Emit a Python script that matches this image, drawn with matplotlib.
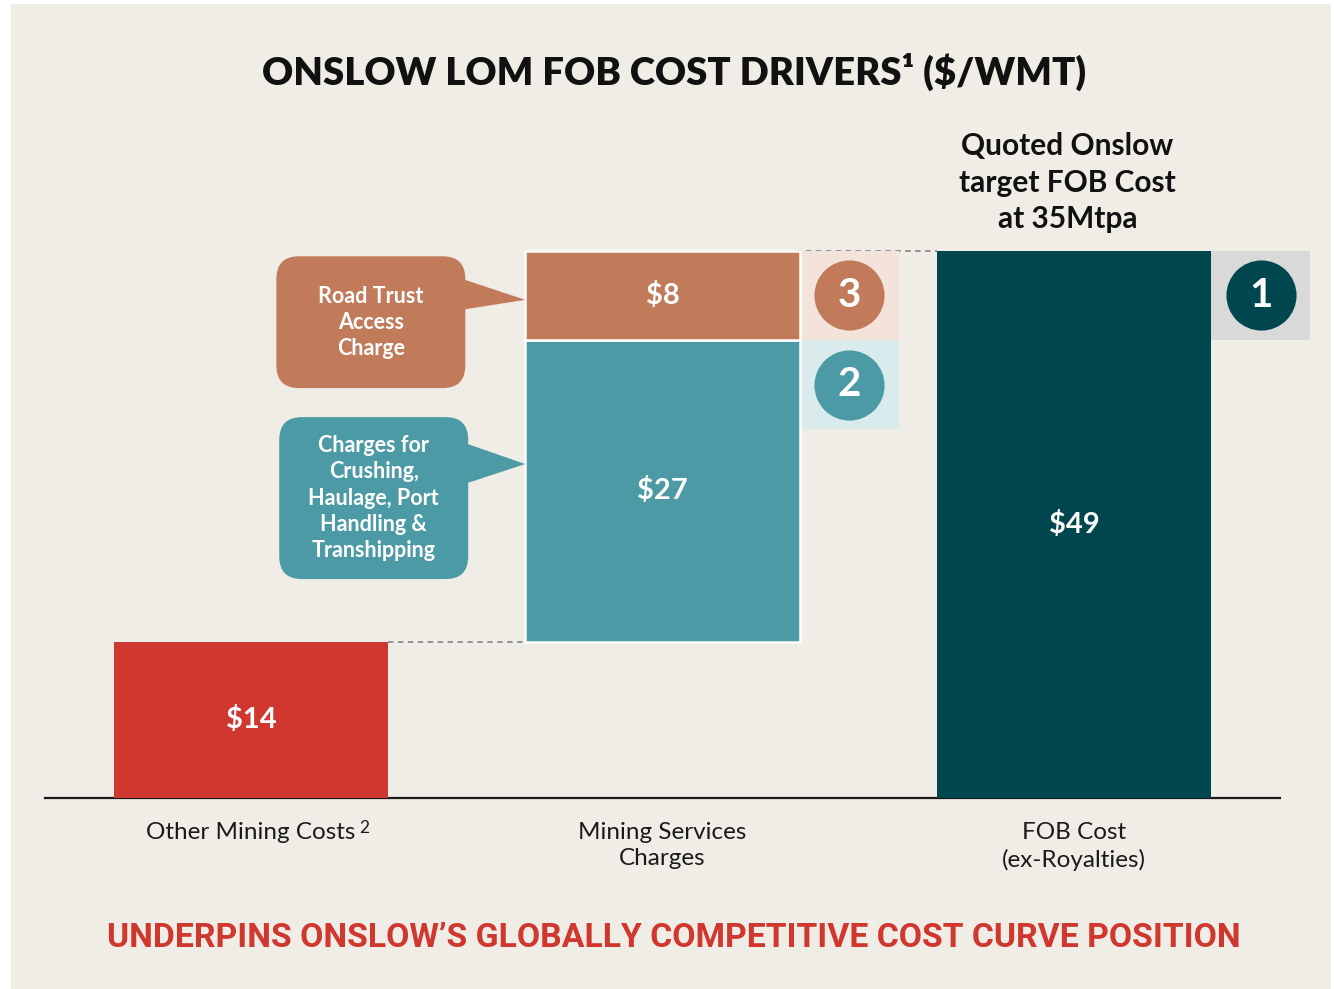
#!/usr/bin/env python3

import matplotlib
matplotlib.use("Agg")
import matplotlib.pyplot as plt
from matplotlib.patches import FancyBboxPatch, Polygon, Rectangle

# data ($/WMT)
categories = ["Other Mining Costs", "Mining Services\nCharges", "FOB Cost\n(ex-Royalties)"]
footnotes = ["2", "", ""]
other_mining = 14
crushing_haulage = 27
road_trust = 8
fob_cost = 49
badge_numbers = ["3", "2", "1"]

# colours
BG = "#F0EDE7"
RED = "#D0372F"
ORANGE = "#C17B5A"
TEAL = "#4C9AA6"
DARK = "#00464F"

FONT = ["Lato", "DejaVu Sans"]


def main():

    fig = plt.figure(figsize=(13.34, 9.89), dpi=100)
    fig.patch.set_facecolor("white")
    # beige panel (own background axes, behind everything)
    bg = fig.add_axes([11 / 1334, 0, 1320 / 1334, 985 / 989], zorder=-5)
    bg.set_facecolor(BG)
    bg.set_axis_off()
    bg.add_patch(Rectangle((0, 0), 1, 1, transform=bg.transAxes, color=BG, lw=0))

    ax = fig.add_axes([45 / 1334, 191 / 989, 1235 / 1334, 678 / 989])
    ax.set_facecolor("none")
    ax.set_xlim(-0.5, 2.5)
    ax.set_ylim(0, 60.7)

    w = 0.667
    x = [0, 1, 2]

    # waterfall bars
    ax.bar(x[0], other_mining, width=w, color=RED, zorder=3)
    ax.bar(x[1], crushing_haulage, bottom=other_mining, width=w, color=TEAL,
           edgecolor="white", linewidth=1.8, zorder=3)
    ax.bar(x[1], road_trust, bottom=other_mining + crushing_haulage, width=w,
           color=ORANGE, edgecolor="white", linewidth=1.8, zorder=3)
    ax.bar(x[2], fob_cost, width=w, color=DARK, zorder=3)

    # value labels
    lab = dict(color="white", fontsize=21, fontweight="bold", ha="center",
               va="center", family=FONT, zorder=5)
    ax.text(x[0], other_mining / 2, f"${other_mining}", **lab)
    ax.text(x[1], other_mining + crushing_haulage / 2, f"${crushing_haulage}", **lab)
    ax.text(x[1], other_mining + crushing_haulage + road_trust / 2, f"${road_trust}", **lab)
    ax.text(x[2], fob_cost / 2, f"${fob_cost}", **lab)

    # dashed connectors
    ax.plot([x[0] + w / 2, x[1] - w / 2 + 0.025], [other_mining] * 2,
            ls=(0, (3, 2.5)), color="#8C8C8C", lw=1.3, zorder=2)
    ax.plot([x[1] + w / 2 - 0.01, x[2] - w / 2], [fob_cost] * 2,
            ls=(0, (3, 2.5)), color="#8C8C8C", lw=1.3, zorder=2)

    # numbered badges
    top = other_mining + crushing_haulage
    bw = 0.24
    badges = [(x[1] + w / 2, top, road_trust, "#F3E3DB", ORANGE),
              (x[1] + w / 2, top - road_trust, road_trust, "#DAEBEE", TEAL),
              (x[2] + w / 2, top, road_trust, "#D9D9D9", DARK)]
    for (bx, by, bh, sq, cc), num in zip(badges, badge_numbers):
        ax.add_patch(Rectangle((bx, by), bw, bh, color=sq, lw=0, zorder=2, clip_on=False))
        cy = by + bh / 2
        ax.scatter([bx + bw / 2], [cy], s=2550, color=cc, zorder=4, lw=0, clip_on=False)
        ax.text(bx + bw / 2, cy, num, color="white", fontsize=29, fontweight="bold",
                ha="center", va="center", family=FONT, zorder=5, clip_on=False)

    # callouts
    aspect = 412 / 11.17
    callouts = [((0.062, 36.7), 0.459, 11.8, (46.5, 43.7), 44.6, ORANGE,
                 "Road Trust\nAccess\nCharge"),
                ((0.069, 19.6), 0.459, 14.5, (31.8, 28.1), 29.9, TEAL,
                 "Charges for\nCrushing,\nHaulage, Port\nHandling &\nTranshipping")]
    for (cx, cy), cw, ch, (p1, p2), tip, col, txt in callouts:
        box = FancyBboxPatch((cx, cy), cw, ch,
                             boxstyle="round,pad=0,rounding_size=0.055",
                             mutation_aspect=aspect, color=col, lw=0, zorder=3)
        ax.add_patch(box)
        ax.add_patch(Polygon([(cx + cw - 0.01, p1), (x[1] - w / 2, tip),
                              (cx + cw - 0.01, p2)], closed=True, color=col,
                             lw=0, zorder=3))
        ax.text(cx + cw / 2, cy + ch / 2, txt, color="white", fontsize=15.5,
                fontweight="bold", ha="center", va="center", linespacing=1.3,
                family=FONT, zorder=5)

    ax.text(1.984, 55.1, "Quoted Onslow\ntarget FOB Cost\nat 35Mtpa", fontsize=21.5,
            fontweight="bold", ha="center", va="center", linespacing=1.36,
            family=FONT, color="#111111")

    # axes styling
    for s in ["top", "left", "right"]:
        ax.spines[s].set_visible(False)
    ax.spines["bottom"].set_linewidth(1.6)
    ax.spines["bottom"].set_color("#1a1a1a")
    ax.set_yticks([])
    ax.set_xticks(x)
    ax.set_xticklabels(categories, fontsize=17.5, family=FONT, color="#1a1a1a",
                       linespacing=1.33)
    ax.tick_params(axis="x", length=0, pad=17)

    # superscript footnote markers next to tick labels
    fig.canvas.draw()
    renderer = fig.canvas.get_renderer()
    inv = fig.transFigure.inverted()
    for tl, note in zip(ax.get_xticklabels(), footnotes):
        if not note:
            continue
        bb = tl.get_window_extent(renderer)
        fx, fy = inv.transform((bb.x1 + 4, bb.y1 + 2))
        fig.text(fx, fy, note, fontsize=12.5, family=FONT, color="#1a1a1a",
                 ha="left", va="top")

    fig.text(0.505, 0.927, "ONSLOW LOM FOB COST DRIVERS\u00b9 ($/WMT)", fontsize=27.5,
             fontweight="heavy", ha="center", va="center", family=FONT, color="#111111")
    fig.text(0.505, 0.0516, "UNDERPINS ONSLOW\u2019S GLOBALLY COMPETITIVE COST CURVE POSITION",
             fontsize=24.3, fontweight="bold", ha="center", va="center",
             family=["Roboto", "DejaVu Sans"], color=RED)

    fig.savefig("out.png", dpi=100, facecolor=fig.get_facecolor())


if __name__ == "__main__":

    main()
